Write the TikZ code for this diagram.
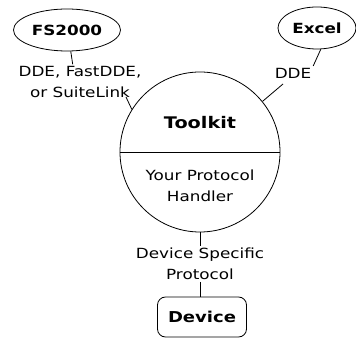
\documentclass[tikz,border=0pt]{standalone}
\usepackage{fontspec}
\setmainfont[FakeStretch=1.2]{DejaVu Sans}
\usepackage{tikz}
\usetikzlibrary{shapes.geometric}
\tikzset{
  hub/.style={ draw, circle, minimum size=160pt, inner sep=0pt }
}
\tikzset{
  app/.style={ draw, ellipse, inner sep=0pt, font=\bfseries\fontsize{14}{16}\selectfont }
}
\tikzset{
  devbox/.style={ draw, rounded corners=8pt, minimum width=89pt, minimum height=40pt, font=\bfseries\fontsize{15}{17}\selectfont }
}
\tikzset{
  lbl/.style={ align=center, inner sep=0pt, outer sep=2pt, font=\fontsize{14}{21}\selectfont }
}

\begin{document}
\begin{tikzpicture}[x=1pt, y=-1pt, line width=0.8pt]
      \useasboundingbox (0,0) rectangle (356,339);

      \node[hub] (tk) at (200, 152) {};
      \draw (tk.west) -- (tk.east);
      \node[font=\bfseries\fontsize{16}{18}\selectfont] (tkname) at (200, 123) {Toolkit};
      \node[lbl] (handler) at (200, 186) {Your Protocol\\Handler};

      \node[app, minimum width=107pt, minimum height=42pt] (fs) at (67, 30) {FS2000};
      \node[lbl] (fslink) at (80, 82) {DDE, FastDDE,\\or SuiteLink};
      \coordinate (fsjoin) at (126, 97);

      \node[app, minimum width=78pt, minimum height=42pt] (xl) at (317, 28) {Excel};
      \node[lbl] (xllink) at (293, 73) {DDE};
      \coordinate (xljoin) at (283, 84);

      \node[lbl] (proto) at (200, 264) {Device Specific\\Protocol};
      \node[devbox] (dev) at (202, 317) {Device};

      \draw (fs.-80) -- (fslink.north -| fs.-75);
      \draw (fsjoin) -- (tk.148);
      \draw (xl.-80) -- (xllink.north east);
      \draw (xljoin) -- (tk.39);
      \draw (tk.south) -- (proto.north);
      \draw (proto.south) -- (dev.north -| proto.south);
    \end{tikzpicture}
\end{document}
